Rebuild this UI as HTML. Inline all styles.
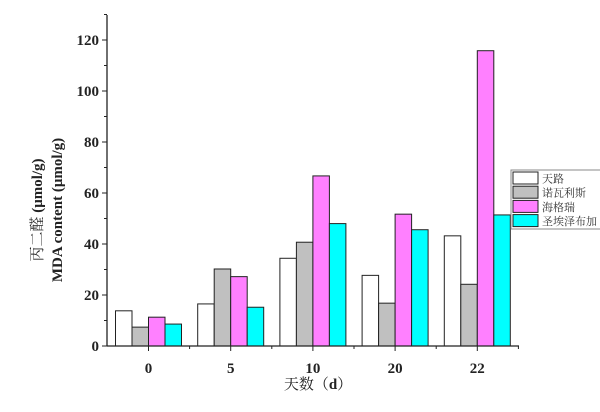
<!DOCTYPE html>
<html><head><meta charset="utf-8"><style>
body{margin:0;background:#fff;width:600px;height:407px;overflow:hidden}
text{font-family:"Liberation Serif","Noto Serif CJK SC",serif}
</style></head><body>
<svg id="chart" width="600" height="407" xmlns="http://www.w3.org/2000/svg">
<g id="bars"></g>
<g id="axes"></g>
<text transform="translate(42,210) rotate(-90)" text-anchor="middle" font-size="15" fill="#222">丙二醛 <tspan font-weight="bold">(μmol/g)</tspan></text>
<text transform="translate(62,210) rotate(-90)" text-anchor="middle" font-size="15" font-weight="bold" fill="#222">MDA content (μmol/g)</text>
<text x="318" y="389" text-anchor="middle" font-size="15" fill="#222">天数（<tspan font-weight="bold">d</tspan>）</text>
<g id="legend"></g>
</svg>
<script>
const categories=["0","5","10","20","22"];
const seriesNames=["天路","诺瓦利斯","海格瑞","圣埃泽布加"];
const s1=[13.8,16.5,34.4,27.7,43.2];
const s2=[7.4,30.2,40.7,16.8,24.2];
const s3=[11.3,27.2,66.7,51.7,115.8];
const s4=[8.6,15.2,48.0,45.6,51.4];
const yTicks=[0,20,40,60,80,100,120];
const colors=["#ffffff","#c0c0c0","#ff80ff","#00ffff"];
const series=[s1,s2,s3,s4];
const NS="http://www.w3.org/2000/svg";
const x0=107,y0=346,ppu=2.55,gx0=148.5,gstep=82.2,bw=16.5;
const Y=v=>y0-v*ppu;
const X=i=>gx0+i*gstep;
function mk(tag,attrs,parent){const e=document.createElementNS(NS,tag);for(const k in attrs)e.setAttribute(k,attrs[k]);parent.appendChild(e);return e;}
const bars=document.getElementById('bars'),axes=document.getElementById('axes'),legend=document.getElementById('legend');
series.forEach((s,si)=>{s.forEach((v,ci)=>{
 const r=mk('rect',{x:X(ci)-2*bw+si*bw,y:Y(v),width:bw,height:v*ppu,fill:colors[si],stroke:'#222','stroke-width':1},bars);
 
 
});});
mk('line',{x1:x0,y1:15,x2:x0,y2:y0,stroke:'#222','stroke-width':1.3},axes);
mk('line',{x1:x0,y1:y0,x2:519,y2:y0,stroke:'#222','stroke-width':1.3},axes);
for(let v=0;v<=130;v+=10){mk('line',{x1:x0-(v%20?3:5),y1:Y(v),x2:x0,y2:Y(v),stroke:'#222'},axes);}
yTicks.forEach(v=>{const t=mk('text',{x:x0-8,y:Y(v)+5,'text-anchor':'end','font-size':15,'font-weight':'bold',fill:'#222'},axes);t.textContent=v;
 
 });
categories.forEach((c,i)=>{mk('line',{x1:X(i),y1:y0,x2:X(i),y2:y0+5,stroke:'#222'},axes);
 mk('line',{x1:X(i)+gstep/2,y1:y0,x2:X(i)+gstep/2,y2:y0+3,stroke:'#222'},axes);
 const t=mk('text',{x:X(i),y:373,'text-anchor':'middle','font-size':15,'font-weight':'bold',fill:'#222'},axes);t.textContent=c;
 
 });
mk('rect',{x:511,y:170,width:95,height:59,fill:'#fff',stroke:'#888'},legend);
seriesNames.forEach((n,i)=>{const yy=172+i*14.2;
 const sw=mk('rect',{x:513,y:yy,width:25,height:12,fill:colors[i],stroke:'#222'},legend);
 
 
 const t=mk('text',{x:542,y:yy+10.5,'font-size':11,fill:'#333'},legend);t.textContent=n;
 
 });
</script>
</body></html>
